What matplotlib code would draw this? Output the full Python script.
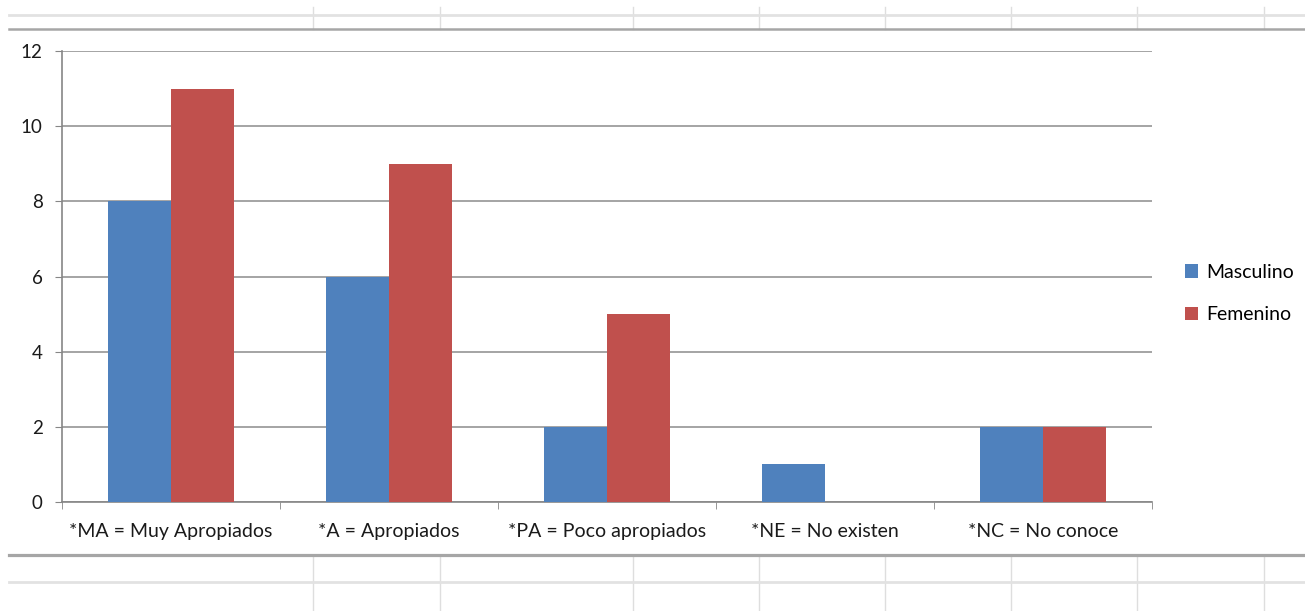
import numpy as np
import matplotlib.pyplot as plt
from matplotlib.lines import Line2D

categories = ['*MA = Muy Apropiados', '*A = Apropiados', '*PA = Poco apropiados',
              '*NE = No existen', '*NC = No conoce']
masculino = [8, 6, 2, 1, 2]
femenino = [11, 9, 5, 0, 2]

plt.rcParams['font.family'] = ['Lato', 'DejaVu Sans']

W, H = 1305, 611
fig = plt.figure(figsize=(W / 100, H / 100), dpi=100)
ax = fig.add_axes([62 / W, 1 - 502 / H, 1090 / W, 451 / H])

x = np.arange(len(categories))
bw = 0.29
ax.bar(x - bw / 2, masculino, bw, color='#4F81BD', label='Masculino', zorder=3)
ax.bar(x + bw / 2, femenino, bw, color='#C0504D', label='Femenino', zorder=3)

ax.set_xlim(-0.5, len(categories) - 0.5)
ax.set_ylim(0, 12)
ax.set_yticks(range(0, 13, 2))
ax.set_xticks(x)
ax.set_xticklabels(categories, fontsize=14, color='#1a1a1a')
ax.set_xticks(np.arange(-0.5, len(categories), 1), minor=True)
ax.tick_params(axis='x', which='major', length=0, pad=15)
ax.tick_params(axis='x', which='minor', length=5, color='#868686')
ax.tick_params(axis='y', length=5, color='#868686', labelsize=13.5, labelcolor='#1a1a1a', pad=9)
ax.yaxis.grid(True, color='#8c8c8c', linewidth=1.1, zorder=0)
for s in ['top', 'right']:
    ax.spines[s].set_visible(False)
for s in ['left', 'bottom']:
    ax.spines[s].set_color('#868686')
    ax.spines[s].set_linewidth(1.2)

ax.legend(loc='center left', bbox_to_anchor=(1.014, 0.462), frameon=False,
          fontsize=14, handlelength=0.7, handleheight=0.7, handletextpad=0.4,
          labelspacing=1.3)

# spreadsheet cell lines around the chart
def hline(y, color, lw):
    fig.add_artist(Line2D([9 / W, 1], [1 - y / H] * 2, color=color, linewidth=lw))

def vline(xp, y0, y1):
    fig.add_artist(Line2D([xp / W] * 2, [1 - y0 / H, 1 - y1 / H], color='#dedede', linewidth=1))

for xp in [313, 440, 633, 759, 885, 1011, 1137, 1264]:
    vline(xp, 7, 29)
    vline(xp, 555, 611)
hline(15, '#e2e2e2', 2)
hline(29, '#a6a6a6', 1.8)
hline(555, '#a6a6a6', 2.3)
hline(582, '#e2e2e2', 2)

fig.savefig('out.png', dpi=100)
